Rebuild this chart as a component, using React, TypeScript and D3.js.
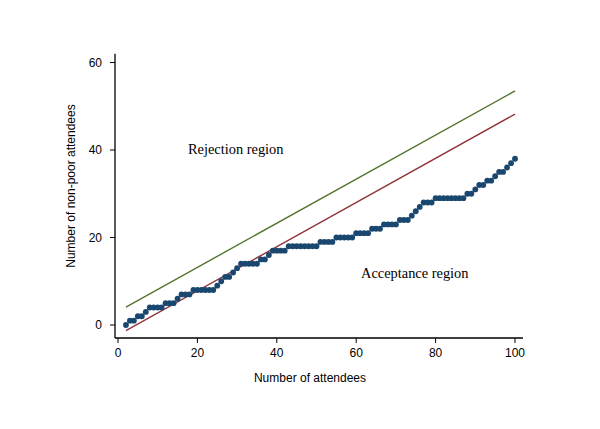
import React from "react";
import * as d3 from "d3";

const nStart = 2;
const nonPoor = [
  0, 1, 1, 2, 2, 3, 4, 4, 4, 4, 5, 5, 5, 6, 7, 7, 7, 8, 8, 8, 8, 8, 8, 9, 10, 11,
  11, 12, 13, 14, 14, 14, 14, 14, 15, 15, 16, 17, 17, 17, 17, 18, 18, 18, 18, 18,
  18, 18, 18, 19, 19, 19, 19, 20, 20, 20, 20, 20, 21, 21, 21, 21, 22, 22, 22, 23,
  23, 23, 23, 24, 24, 24, 25, 26, 27, 28, 28, 28, 29, 29, 29, 29, 29, 29, 29, 29,
  30, 30, 31, 32, 32, 33, 33, 34, 35, 35, 36, 37, 38,
];
const lineN = [2, 100];
const upperLine = [4.1, 53.5];
const lowerLine = [-1.3, 48.2];
const xTicks = [0, 20, 40, 60, 80, 100];
const yTicks = [0, 20, 40, 60];
const xTitle = "Number of attendees";
const yTitle = "Number of non-poor attendees";
const rejectLabel = "Rejection region";
const acceptLabel = "Acceptance region";

export default function App() {
  const W = 600, H = 429;
  const x = d3.scaleLinear().domain([0, 100]).range([118, 515]);
  const y = d3.scaleLinear().domain([0, 60]).range([325, 62.5]);
  const axX0 = 115, axY0 = 338;
  const xEnd = x(102);
  const yTop = y(62);
  const pts = nonPoor.map((v, i) => [nStart + i, v] as [number, number]);
  const line = d3.line<number>().x((_, i) => x(lineN[i])).y((d) => y(d));
  const sans = "'Liberation Sans', Arial, sans-serif";
  const serif = "'Liberation Serif', 'Times New Roman', serif";
  return (
    <svg width={W} height={H} style={{ position: "absolute", left: 0, top: 0, background: "#fff" }}>
      <rect width={W} height={H} fill="#fff" />
      <line x1={axX0} x2={xEnd} y1={axY0} y2={axY0} stroke="#000" strokeWidth={1.3} />
      <line x1={axX0} x2={axX0} y1={yTop} y2={axY0} stroke="#000" strokeWidth={1.3} />
      {xTicks.map((t) => (
        <g key={"x" + t}>
          <line x1={x(t)} x2={x(t)} y1={axY0} y2={axY0 + 5} stroke="#000" strokeWidth={1} />
          <text x={x(t)} y={357} textAnchor="middle" fontFamily={sans} fontSize={12}>{t}</text>
        </g>
      ))}
      {yTicks.map((t) => (
        <g key={"y" + t}>
          <line x1={axX0 - 5} x2={axX0} y1={y(t)} y2={y(t)} stroke="#000" strokeWidth={1} />
          <text x={102} y={y(t) + 4.3} textAnchor="end" fontFamily={sans} fontSize={12}>{t}</text>
        </g>
      ))}
      <text x={310} y={382} textAnchor="middle" fontFamily={sans} fontSize={12}>{xTitle}</text>
      <text transform={`translate(75,186) rotate(-90)`} textAnchor="middle" fontFamily={sans} fontSize={12}>{yTitle}</text>
      <path d={line(upperLine) || ""} fill="none" stroke="#55752f" strokeWidth={1.4} />
      <path d={line(lowerLine) || ""} fill="none" stroke="#90353b" strokeWidth={1.4} />
      {pts.map(([n, v]) => (
        <circle key={n} cx={x(n)} cy={y(v)} r={2.9} fill="#1a476f" />
      ))}
      <text x={188} y={154} fontFamily={serif} fontSize={14.4}>{rejectLabel}</text>
      <text x={361} y={278} fontFamily={serif} fontSize={14.4}>{acceptLabel}</text>
    </svg>
  );
}
